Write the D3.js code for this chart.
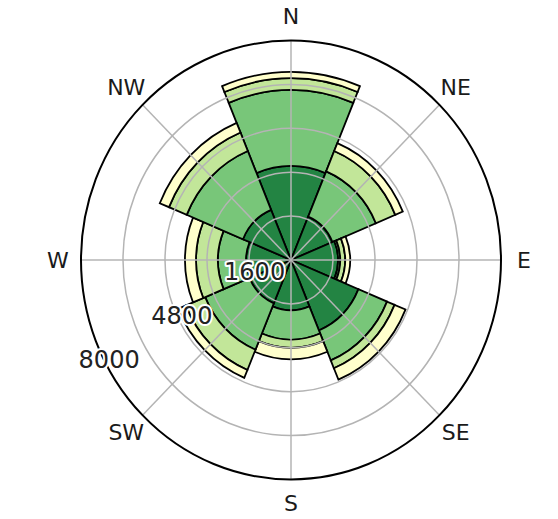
<!DOCTYPE html>
<html>
<head>
<meta charset="utf-8">
<script src="https://cdn.jsdelivr.net/npm/d3@7"></script>
<style>
  body { margin: 0; background: #fff; }
  svg { display: block; }
</style>
</head>
<body>
<svg id="chart" width="558" height="519"></svg>
<script>
// Wind directions and their compass bearings (degrees, clockwise from north)
const directions = ["N", "NE", "E", "SE", "S", "SW", "W", "NW"];
const bearings = [0, 45, 90, 135, 180, 225, 270, 315];

// Counts per speed bin, innermost (calmest) bin first
const bin1 = [3430, 1710, 1790, 2780, 1830, 1710, 1710, 1980];
const bin2 = [2770, 1790, 80, 1180, 1070, 1830, 1070, 2320];
const bin3 = [430, 800, 190, 310, 300, 800, 840, 730];
const bin4 = [230, 310, 190, 450, 420, 310, 420, 380];
const bins = [bin1, bin2, bin3, bin4];
const binColors = ["#238443", "#78c679", "#c2e699", "#ffffcc"];

// Radial grid
const radialTicks = [1600, 3200, 4800, 6400, 8000];
const radialLabels = [1600, 4800, 8000];
const maxValue = 8000;

const cx = 291, cy = 260, R = 210, ky = 1.045;
const sector = 45;

const svg = d3.select("#chart");
const r = d3.scaleLinear().domain([0, maxValue]).range([0, R]);
const rad = d => d * Math.PI / 180;

const plot = svg.append("g")
  .attr("transform", `translate(${cx},${cy}) scale(1,${ky})`);

// Stacked sectors
const arc = d3.arc();
const stacked = [];
directions.forEach((dir, i) => {
  let base = 0;
  bins.forEach((b, k) => {
    stacked.push({
      dir, k,
      start: base,
      end: base + b[i],
      a0: rad(bearings[i] - sector / 2),
      a1: rad(bearings[i] + sector / 2)
    });
    base += b[i];
  });
});

plot.append("g").selectAll("path")
  .data(stacked)
  .join("path")
  .attr("d", d => arc({
    innerRadius: r(d.start),
    outerRadius: r(d.end),
    startAngle: d.a0,
    endAngle: d.a1
  }))
  .attr("fill", d => binColors[d.k])
  .attr("stroke", "#000")
  .attr("stroke-width", 1.8)
  .attr("stroke-linejoin", "miter")
  .attr("vector-effect", "non-scaling-stroke");

// Grid rings and spokes on top of the bars
const grid = plot.append("g");
grid.selectAll("circle.ring")
  .data(radialTicks.slice(0, -1))
  .join("circle")
  .attr("class", "ring")
  .attr("r", d => r(d))
  .attr("fill", "none")
  .attr("stroke", "#b4b4b4")
  .attr("stroke-width", 1.5)
  .attr("vector-effect", "non-scaling-stroke");

grid.selectAll("line.spoke")
  .data(bearings)
  .join("line")
  .attr("class", "spoke")
  .attr("x1", 0).attr("y1", 0)
  .attr("x2", d => R * Math.sin(rad(d)))
  .attr("y2", d => -R * Math.cos(rad(d)))
  .attr("stroke", "#b4b4b4")
  .attr("stroke-width", 1.5)
  .attr("vector-effect", "non-scaling-stroke");

// Outer frame
plot.append("circle")
  .attr("r", r(maxValue))
  .attr("fill", "none")
  .attr("stroke", "#000")
  .attr("stroke-width", 2)
  .attr("vector-effect", "non-scaling-stroke");

// Compass labels
const labelR = 233;
svg.append("g").selectAll("text")
  .data(directions)
  .join("text")
  .attr("x", (d, i) => cx + labelR * Math.sin(rad(bearings[i])))
  .attr("y", (d, i) => cy - labelR * Math.cos(rad(bearings[i])) * ky)
  .attr("text-anchor", "middle")
  .attr("dominant-baseline", "central")
  .attr("font-family", "DejaVu Sans, sans-serif")
  .attr("font-size", 22)
  .attr("fill", "#1a1a1a")
  .text(d => d);

// Radial value labels with a white halo
const labelAngle = rad(30);
svg.append("g").selectAll("text")
  .data(radialLabels)
  .join("text")
  .attr("x", d => cx - r(d) * Math.cos(labelAngle))
  .attr("y", d => cy + r(d) * Math.sin(labelAngle) * ky - 9.5)
  .attr("text-anchor", "middle")
  .attr("dominant-baseline", "central")
  .attr("font-family", "DejaVu Sans, sans-serif")
  .attr("font-size", 24)
  .attr("fill", "#222")
  .attr("stroke", "#fff")
  .attr("stroke-width", 4)
  .attr("stroke-linejoin", "round")
  .attr("paint-order", "stroke")
  .text(d => d);
</script>
</body>
</html>
